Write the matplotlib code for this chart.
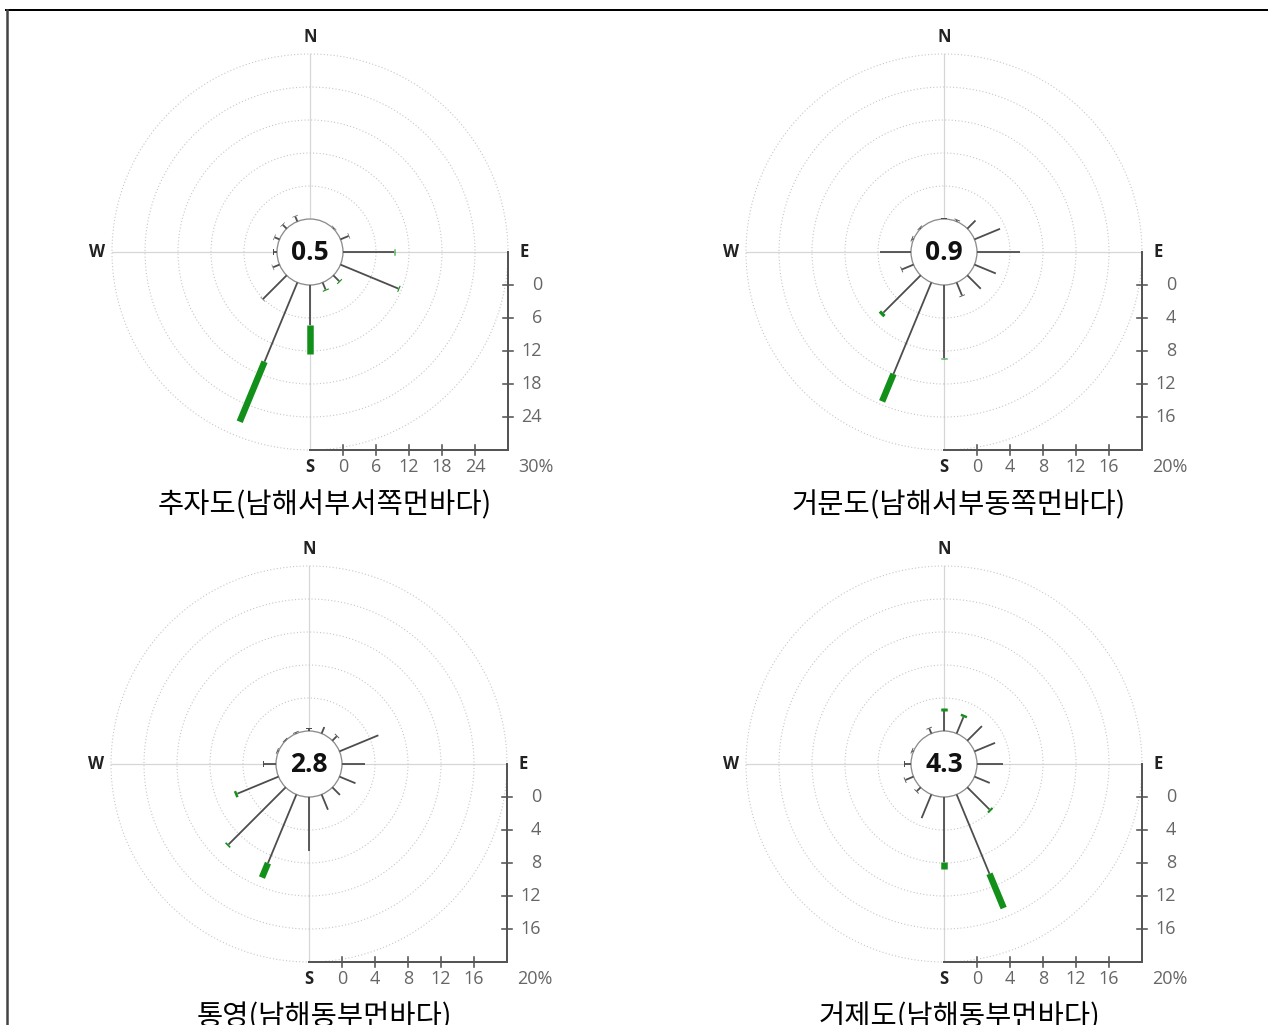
import numpy as np
import matplotlib
matplotlib.use("Agg")
import matplotlib.pyplot as plt
from matplotlib.patches import Circle
from matplotlib.lines import Line2D

W_PX, H_PX, DPI = 1268, 1025, 100

# 16 compass directions, clockwise from north
DIRECTIONS = ["N", "NNE", "NE", "ENE", "E", "ESE", "SE", "SSE",
              "S", "SSW", "SW", "WSW", "W", "WNW", "NW", "NNW"]

TICKS_CHUJA = [0, 6, 12, 18, 24, 30]
TICKS_OTHER = [0, 4, 8, 12, 16, 20]

# frequency (%) per direction, split into speed classes: low / mid / high
CHUJA_CALM = 0.5
CHUJA_LOW = [0, 0, 0.15, 1.6, 9.3, 11.4, 1.5, 1.4, 7.3, 15.6, 6.1, 1.25, 0.6, 0.95, 1.0, 1.0]
CHUJA_MID = [0, 0, 0.1, 0.1, 0, 0, 0, 0, 0, 0, 0.1, 0.1, 0.1, 0.1, 0.1, 0.1]
CHUJA_HIGH = [0, 0, 0, 0, 0.15, 0.2, 0.2, 0.2, 5.3, 11.8, 0, 0, 0, 0, 0, 0]

GEOMUN_CALM = 0.9
GEOMUN_LOW = [0.05, 0.15, 1.4, 3.35, 5.2, 2.8, 2.3, 1.7, 8.85, 12.0, 6.4, 1.5, 3.8, 0.15, 0.1, 0]
GEOMUN_MID = [0.1, 0.1, 0, 0, 0, 0, 0, 0.1, 0, 0, 0, 0.1, 0, 0.1, 0.1, 0]
GEOMUN_HIGH = [0, 0, 0, 0, 0, 0, 0, 0, 0.15, 3.6, 0.4, 0, 0, 0, 0, 0]

TONGYEONG_CALM = 2.8
TONGYEONG_LOW = [0.3, 0.85, 0.75, 5.1, 2.8, 2.1, 1.3, 2.0, 6.5, 9.0, 9.8, 5.4, 1.5, 0.1, 0.05, 0.1]
TONGYEONG_MID = [0.1, 0, 0.1, 0, 0, 0, 0, 0, 0, 0, 0, 0, 0.1, 0.1, 0.1, 0.1]
TONGYEONG_HIGH = [0, 0, 0, 0, 0, 0, 0, 0, 0, 1.9, 0.2, 0.3, 0, 0, 0, 0]

GEOJE_CALM = 4.3
GEOJE_LOW = [2.4, 2.15, 2.5, 2.7, 3.1, 2.0, 3.8, 10.4, 7.85, 3.1, 0.65, 1.05, 0.7, 0.15, 0, 0.65]
GEOJE_MID = [0, 0, 0, 0, 0, 0, 0, 0, 0, 0, 0.1, 0.1, 0.1, 0.1, 0, 0.1]
GEOJE_HIGH = [0.35, 0.3, 0, 0, 0, 0, 0.25, 4.5, 0.85, 0, 0, 0, 0, 0, 0, 0]

CAPTIONS = ["추자도(남해서부서쪽먼바다)", "거문도(남해서부동쪽먼바다)",
            "통영(남해동부먼바다)", "거제도(남해동부먼바다)"]

GREEN = "#12901a"
CJK = ["Noto Sans CJK KR", "DejaVu Sans"]
SANS = ["Open Sans", "DejaVu Sans"]


def pt(px):
    return px * 72.0 / DPI


def draw_rose(fig, cx, cy, px_per_unit, ticks, calm, low, mid, high, caption):
    half = 250
    ax = fig.add_axes([(cx - half) / W_PX, 1 - (cy + half) / H_PX,
                       2 * half / W_PX, 2 * half / H_PX])
    lim = half / px_per_unit
    ax.set_xlim(-lim, lim)
    ax.set_ylim(-lim, lim)
    ax.set_axis_off()

    def p(px):
        return px / px_per_unit

    hub = ticks[1] - ticks[0]          # calm circle occupies one step
    R = hub + ticks[-1]

    # crosshair and dotted rings
    ax.plot([-R, R], [0, 0], color="#d6d6d6", lw=pt(1.2), zorder=1)
    ax.plot([0, 0], [-R, R], color="#d6d6d6", lw=pt(1.2), zorder=1)
    for t in ticks[1:]:
        ax.add_patch(Circle((0, 0), hub + t, fill=False, ec="#c6c6c6",
                            lw=pt(1.1), ls=(0, (1, 2)), zorder=1))

    # spokes
    ang = np.deg2rad(np.arange(len(DIRECTIONS)) * 22.5)
    for a, lo, md, hi in zip(ang, low, mid, high):
        s, c = np.sin(a), np.cos(a)
        r1 = hub + lo
        r2 = r1 + md
        r3 = r2 + hi
        if lo > 0:
            ax.plot([hub * s, r1 * s], [hub * c, r1 * c], color="#4d4d4d",
                    lw=pt(1.8), solid_capstyle="butt", zorder=4)
        if md > 0:
            ax.plot([r1 * s, r2 * s], [r1 * c, r2 * c], color="#4d4d4d",
                    lw=pt(6), solid_capstyle="butt", zorder=4)
        if hi > 0:
            ax.plot([r2 * s, r3 * s], [r2 * c, r3 * c], color=GREEN,
                    lw=pt(6.5), solid_capstyle="butt", zorder=5)

    ax.add_patch(Circle((0, 0), hub, fc="white", ec="#8c8c8c", lw=pt(1.3), zorder=3))
    ax.text(0, 0, f"{calm}", ha="center", va="center", fontsize=19,
            fontweight="bold", color="#111111", family=SANS, zorder=6)

    # L-shaped scale on the lower right
    ax.plot([R, R, 0], [0, -R, -R], color="#555555", lw=pt(2), zorder=2,
            solid_joinstyle="miter")
    for t in ticks[:-1]:
        r = hub + t
        ax.plot([R - p(5), R + p(5)], [-r, -r], color="#555555", lw=pt(1.6), zorder=2)
        ax.plot([r, r], [-R - p(5), -R + p(5)], color="#555555", lw=pt(1.6), zorder=2)
        ax.text(R + p(34), -r, str(t), ha="right", va="center", fontsize=13,
                color="#666666", family=SANS)
        ax.text(r, -R - p(17), str(t), ha="center", va="center", fontsize=13,
                color="#666666", family=SANS)
    ax.text(R + p(28), -R - p(17), f"{ticks[-1]}%", ha="center", va="center",
            fontsize=13, color="#666666", family=SANS)

    # compass letters
    kw = dict(ha="center", va="center", fontsize=12, fontweight="bold",
              color="#222222", family=SANS)
    ax.text(0, R + p(17), "N", **kw)
    ax.text(0, -R - p(17), "S", **kw)
    ax.text(-R - p(15), 0, "W", **kw)
    ax.text(R + p(16), 0, "E", **kw)

    ax.text(p(15), -p(253), caption, ha="center", va="center", fontsize=20.5,
            color="black", family=CJK)
    return ax


fig = plt.figure(figsize=(W_PX / DPI, H_PX / DPI), dpi=DPI)
fig.patch.set_facecolor("white")

draw_rose(fig, 310, 252, 5.5, TICKS_CHUJA, CHUJA_CALM,
          CHUJA_LOW, CHUJA_MID, CHUJA_HIGH, CAPTIONS[0])
draw_rose(fig, 944, 252, 8.25, TICKS_OTHER, GEOMUN_CALM,
          GEOMUN_LOW, GEOMUN_MID, GEOMUN_HIGH, CAPTIONS[1])
draw_rose(fig, 309, 764, 8.25, TICKS_OTHER, TONGYEONG_CALM,
          TONGYEONG_LOW, TONGYEONG_MID, TONGYEONG_HIGH, CAPTIONS[2])
draw_rose(fig, 944, 764, 8.25, TICKS_OTHER, GEOJE_CALM,
          GEOJE_LOW, GEOJE_MID, GEOJE_HIGH, CAPTIONS[3])

# page frame (top and left edges)
fig.add_artist(Line2D([6 / W_PX, 1], [1 - 10 / H_PX] * 2, color="black", lw=pt(2)))
fig.add_artist(Line2D([7 / W_PX] * 2, [0, 1 - 10 / H_PX], color="#444444", lw=pt(2.5)))

fig.savefig("out.png", dpi=DPI)
